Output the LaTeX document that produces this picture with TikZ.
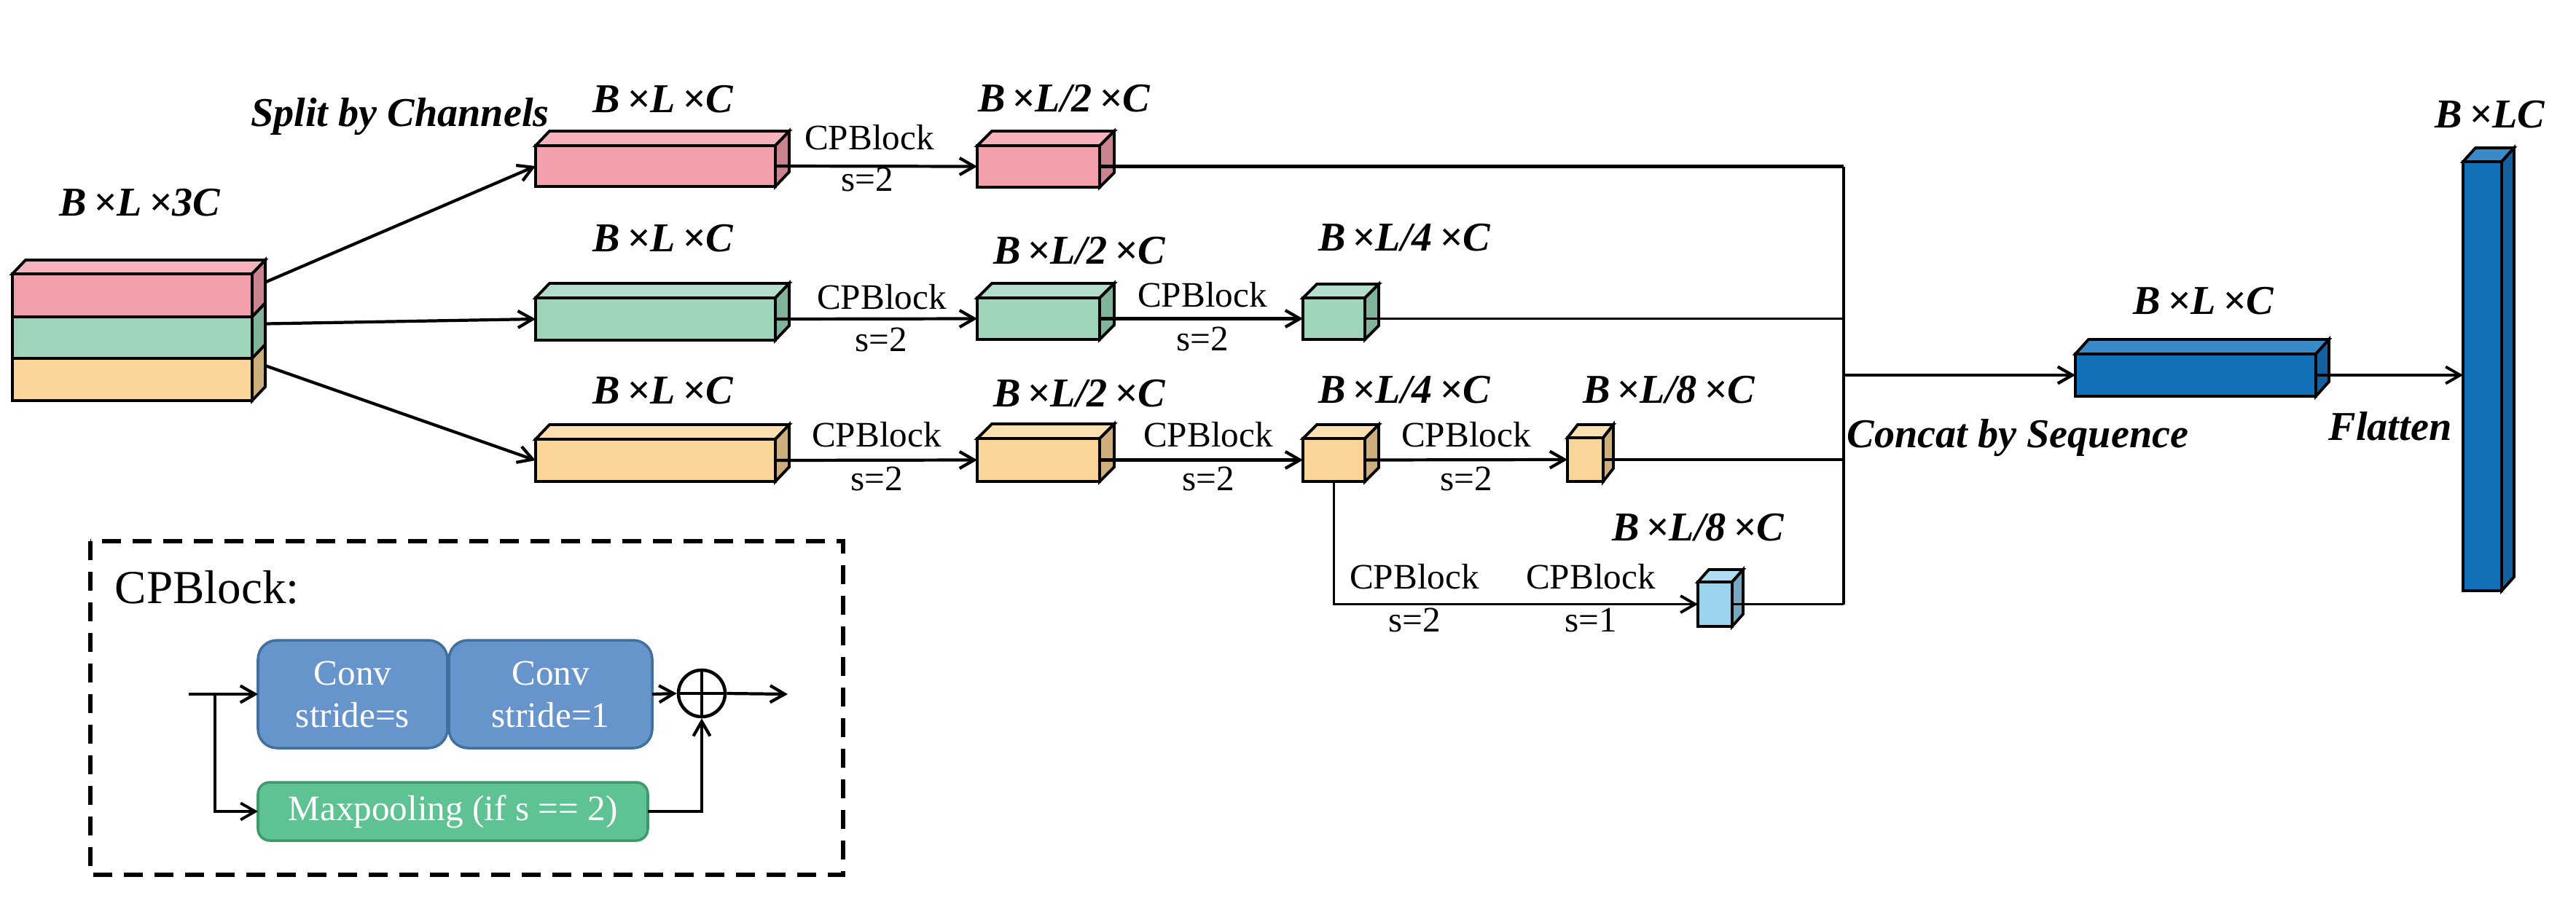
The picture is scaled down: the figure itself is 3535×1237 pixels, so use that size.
\documentclass[tikz,border=0pt]{standalone}
\usepackage{fontspec}
\setmainfont{Liberation Serif}
\usetikzlibrary{arrows.meta,calc}
\definecolor{pinkF}{HTML}{F3A0AC}\definecolor{pinkT}{HTML}{F6B3BC}\definecolor{pinkS}{HTML}{C8838D}
\definecolor{grnF}{HTML}{9ED5BA}\definecolor{grnT}{HTML}{B3DFCA}\definecolor{grnS}{HTML}{80B49A}
\definecolor{orgF}{HTML}{FBD598}\definecolor{orgT}{HTML}{FCE0B0}\definecolor{orgS}{HTML}{CEAE7C}
\definecolor{lbF}{HTML}{9BD3EF}\definecolor{lbT}{HTML}{B0DDF3}\definecolor{lbS}{HTML}{78A7C2}
\definecolor{bluF}{HTML}{1170B8}\definecolor{bluT}{HTML}{3A8ACA}\definecolor{bluS}{HTML}{1560A0}
\definecolor{convF}{HTML}{6794CB}\definecolor{convB}{HTML}{41709F}
\definecolor{mpF}{HTML}{5FC292}\definecolor{mpB}{HTML}{3E9A6C}
\tikzset{
  face/.style={draw=black, line width=1.1pt, inner sep=0pt, outer sep=0pt, line join=miter},
  arr/.style={line width=1.2pt, -{Straight Barb[length=2mm,width=2.3mm,line width=1.2pt]}},
  ln/.style={line width=1.2pt},
  thinln/.style={line width=0.9pt},
  thinarr/.style={line width=0.9pt, -{Straight Barb[length=2mm,width=2.3mm,line width=1.1pt]}},
  dimlab/.style={font=\fontsize{16}{18}\selectfont\bfseries\itshape, anchor=base, inner sep=0pt},
  oplab/.style={font=\fontsize{14}{16}\selectfont, anchor=base, inner sep=0pt},
  rbox/.style={draw, line width=1pt, rounded corners=2.6mm, inner sep=0pt, outer sep=0pt, text=white, align=center,
     font=\fontsize{14}{16.5}\selectfont},
}
% name, cx, cy, w, h, dx, dy, colour prefix
\newcommand\cub[8]{%
  \node[face, fill=#8F, minimum width=#4*0.1mm, minimum height=#5*0.1mm] (#1) at (#2,#3) {};
  \draw[face, fill=#8T] (#1.north west) -- ++(#6,-#7) -- ++(#4,0) -- (#1.north east) -- cycle;
  \draw[face, fill=#8S] (#1.north east) -- ++(#6,-#7) -- ++(0,#5) -- (#1.south east) -- cycle;
}
\begin{document}
\begin{tikzpicture}[x=0.1mm,y=-0.1mm]
\useasboundingbox (0,0) rectangle (3535,1237);

% ---------- input stack ----------
\node[face, fill=pinkF, minimum width=32.9mm, minimum height=5.9mm] (stP) at (181.5,405.5) {};
\node[face, fill=grnF, minimum width=32.9mm, minimum height=5.7mm] (stG) at (181.5,463.5) {};
\node[face, fill=orgF, minimum width=32.9mm, minimum height=5.8mm] (stO) at (181.5,521) {};
\draw[face, fill=pinkT] (stP.north west) -- ++(18,-19) -- ++(329,0) -- (stP.north east) -- cycle;
\draw[face, fill=pinkS] (stP.north east) -- ++(18,-19) -- ++(0,59) -- (stP.south east) -- cycle;
\draw[face, fill=grnS] (stG.north east) -- ++(18,-19) -- ++(0,57) -- (stG.south east) -- cycle;
\draw[face, fill=orgS] (stO.north east) -- ++(18,-19) -- ++(0,58) -- (stO.south east) -- cycle;
\coordinate (oP) at ($(stP.east)+(18,-18)$);
\coordinate (oG) at ($(stG.east)+(18,-19)$);
\coordinate (oO) at ($(stO.east)+(18,-19)$);
\node[dimlab] (lst) at (192,296) {B\,×L\,×3C};
\node[dimlab] (lsplit) at (549,173) {Split by Channels};

% ---------- row 1 ----------
\cub{r1a}{899.5}{228}{329}{56}{19}{20}{pink}
\cub{r1b}{1425}{228.5}{168}{57}{20}{20}{pink}
% ---------- row 2 ----------
\cub{r2a}{899.5}{438}{329}{58}{19}{20}{grn}
\cub{r2b}{1425}{437.5}{168}{57}{20}{20}{grn}
\cub{r2c}{1830.5}{437.5}{85}{57}{19}{19}{grn}
% ---------- row 3 ----------
\cub{r3a}{899.5}{632}{329}{58}{19}{20}{org}
\cub{r3b}{1425}{631.5}{168}{59}{20}{20}{org}
\cub{r3c}{1830.5}{631.5}{85}{59}{19}{19}{org}
\cub{r3d}{2175.5}{631}{49}{60}{14}{18}{org}
% ---------- row 4 ----------
\cub{r4}{2353.5}{829.5}{47}{61}{15}{17}{lb}
% ---------- output ----------
\cub{bl}{3013}{515}{330}{58}{18}{20}{blu}
\cub{tall}{3406.5}{516.5}{53}{589}{17}{19}{blu}

% dimension labels
\node[dimlab] (l1a) at (910,154) {B\,×L\,×C};
\node[dimlab] (l1b) at (1460,153) {B\,×L/2\,×C};
\node[dimlab] (l2a) at (910,345) {B\,×L\,×C};
\node[dimlab] (l2b) at (1481,362) {B\,×L/2\,×C};
\node[dimlab] (l2c) at (1927,344) {B\,×L/4\,×C};
\node[dimlab] (l3a) at (910,554) {B\,×L\,×C};
\node[dimlab] (l3b) at (1481,558) {B\,×L/2\,×C};
\node[dimlab] (l3c) at (1927,553) {B\,×L/4\,×C};
\node[dimlab] (l3d) at (2290,553) {B\,×L/8\,×C};
\node[dimlab] (l4) at (2330,742) {B\,×L/8\,×C};
\node[dimlab] (lbl) at (3024,431) {B\,×L\,×C};
\node[dimlab] (ltall) at (3417,175) {B\,×LC};
\node[dimlab] (lconcat) at (2769,614) {Concat by Sequence};
\node[dimlab] (lflat) at (3280,604) {Flatten};

% split arrows
\draw[arr] (oP) -- (r1a.west);
\draw[arr] (oG) -- (r2a.west);
\draw[arr] (oO) -- (r3a.west);

% CPBlock arrows
\draw[arr] (r1a.east) -- (r1b.west);
\draw[arr] (r2a.east) -- (r2b.west);
\draw[arr] (r2b.east) -- (r2c.west);
\draw[arr] (r3a.east) -- (r3b.west);
\draw[arr] (r3b.east) -- (r3c.west);
\draw[arr] (r3c.east) -- (r3d.west);
\draw[thinarr] (r3c.south) |- (r4.west);

% op labels
\node[oplab] (c1) at (1193,205) {CPBlock};
\node[oplab] (s1) at (1190,262) {s=2};
\node[oplab] (c2a) at (1210,424) {CPBlock};
\node[oplab] (s2a) at (1209,482) {s=2};
\node[oplab] (c2b) at (1650,421) {CPBlock};
\node[oplab] (s2b) at (1650,481) {s=2};
\node[oplab] (c3a) at (1203,613) {CPBlock};
\node[oplab] (s3a) at (1203,673) {s=2};
\node[oplab] (c3b) at (1658,613) {CPBlock};
\node[oplab] (s3b) at (1658,673) {s=2};
\node[oplab] (c3c) at (2012,613) {CPBlock};
\node[oplab] (s3c) at (2012,673) {s=2};
\node[oplab] (c4a) at (1941,808) {CPBlock};
\node[oplab] (s4a) at (1941,867) {s=2};
\node[oplab] (c4b) at (2183,808) {CPBlock};
\node[oplab] (s4b) at (2183,867) {s=1};

% concat bar
\coordinate (cx) at (2530,0);
\draw[ln] (r1b.east) -- (r1b.east -| cx);
\draw[thinln] (r2c.east) -- (r2c.east -| cx);
\draw[ln] (r3d.east) -- (r3d.east -| cx);
\draw[thinln] (r4.east) -- (r4.east -| cx);
\draw[ln] (cx |- r1b.east) -- (cx |- r4.east);
\draw[arr] (cx |- bl.west) -- (bl.west);
\draw[thinarr] (bl.east) -- (tall.west |- bl.east);

% ---------- CPBlock legend ----------
\draw[line width=1.5pt, dash pattern=on 2.6mm off 1.6mm] (124,743) rectangle (1157,1201);
\node[font=\fontsize{18.5}{20}\selectfont, anchor=base west, inner sep=0pt] (ltitle) at (157,828) {CPBlock:};
\node[rbox, fill=convF, draw=convB, minimum width=26mm, minimum height=14.8mm] (cv1) at (484,953) {Conv\\stride=s};
\node[rbox, fill=convF, draw=convB, minimum width=27.9mm, minimum height=14.8mm] (cv2) at (755.5,953) {Conv\\stride=1};
\node[rbox, fill=mpF, draw=mpB, rounded corners=1.6mm, minimum width=53.5mm, minimum height=8mm] (mp) at (621.5,1114) {Maxpooling (if s == 2)};
\node[circle, draw, line width=1.3pt, minimum size=6.4mm, inner sep=0pt] (ox) at (963,952) {};
\draw[line width=1.3pt] (ox.north) -- (ox.south) (ox.west) -- (ox.east);
\coordinate (in) at (259,953);
\coordinate (br) at (295,953);
\coordinate (out) at (1081,953);
\draw[arr] (in) -- (cv1.west);
\draw[thinarr] (br) |- (mp.west);
\draw[arr] (cv2.east) -- (ox.west);
\draw[arr] (mp.east) -| (ox.south);
\draw[arr] (ox.east) -- (out);
\end{tikzpicture}
\end{document}
